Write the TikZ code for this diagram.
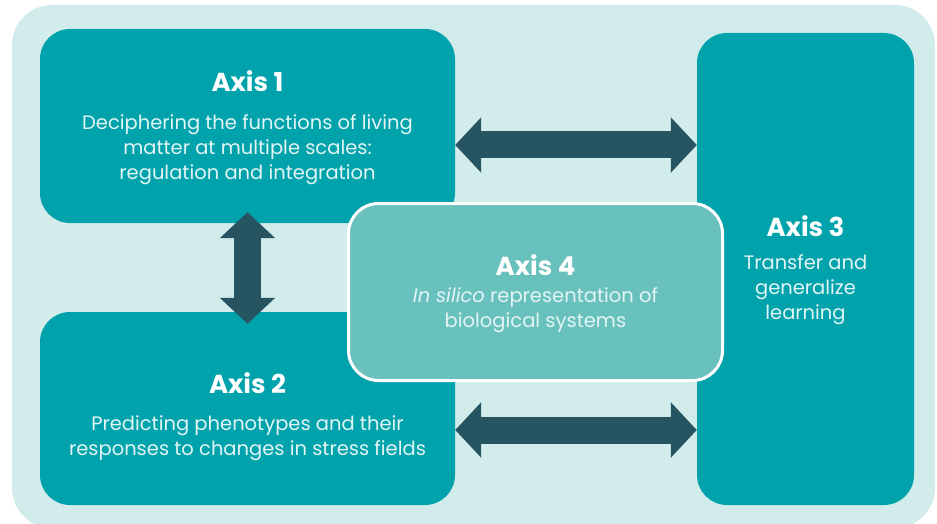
\documentclass[tikz,border=0pt]{standalone}
\usepackage{fontspec}
\setmainfont{Poppins}
\usetikzlibrary{arrows.meta}

\definecolor{paneback}{HTML}{D2ECEC}
\definecolor{axisteal}{HTML}{00A3AB}
\definecolor{coreteal}{HTML}{69C1BE}
\definecolor{linkslate}{HTML}{265460}
\definecolor{bodytext}{HTML}{E2F4F4}

% title line; the optional strut height pushes the text block down
\newcommand{\axistitle}[2][24pt]{\rule{0pt}{#1}{\color{white}\fontsize{26}{30}\selectfont\bfseries Axis #2}}

\begin{document}
\begin{tikzpicture}[x=1pt, y=-1pt,
	every node/.append style={text=bodytext, font=\fontsize{19.5}{25}\selectfont, align=center},
	axisbox/.style={fill=axisteal, rounded corners=30pt, inner sep=0pt},
	link/.style={draw=linkslate, line width=27pt, {Triangle[width=54pt,length=26pt]}-{Triangle[width=54pt,length=26pt]}}]

	\useasboundingbox (0,0) rectangle (937,524);
	\fill[paneback, rounded corners=40pt] (12,5) rectangle (935,528);

	\node[axisbox, minimum width=415pt, minimum height=194pt] (axisA) at (247.5,126)
		{\axistitle{1}\\[13pt] Deciphering the functions of living\\ matter at multiple scales:\\ regulation and integration};
	\node[axisbox, minimum width=415pt, minimum height=193pt] (axisB) at (247.5,408.5)
		{\axistitle[38pt]{2}\\[12pt] Predicting phenotypes and their\\ responses to changes in stress fields};
	\node[axisbox, minimum width=217pt, minimum height=472pt] (axisC) at (805.5,269)
		{\axistitle{3}\\[8pt] Transfer and\\ generalize\\ learning};
	\node[axisbox, fill=coreteal, draw=white, line width=3pt, minimum width=374pt, minimum height=177pt] (axisD) at (535.5,292)
		{\axistitle{4}\\[2pt] \textit{In silico} representation of\\ biological systems};

	% double-headed links between the axes
	\foreach \a/\b/\s in {axisA/axisC/-19, axisB/axisC/-21.5}
	{
		\draw[link] ([yshift=\s pt]\a.east) -- ([yshift=\s pt]\a.east -| \b.west);
	}
	\draw[link] ([yshift=11pt]axisA.south) -- ([yshift=-12pt]axisB.north);

\end{tikzpicture}
\end{document}
